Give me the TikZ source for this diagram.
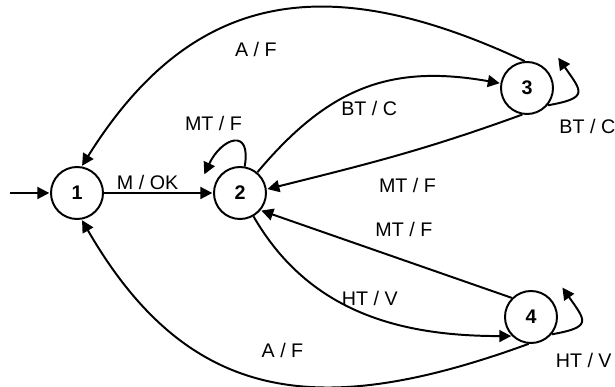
\documentclass[tikz,border=0pt]{standalone}
\usepackage{fontspec}
\setmainfont{Liberation Sans}
\usetikzlibrary{arrows.meta,positioning}

\begin{document}
\begin{tikzpicture}[>={Triangle[length=8.5pt,width=8.5pt]},shorten >=0.5pt,auto,on grid,
        line width=1.4pt,main node/.style={circle,draw,minimum size=1.3cm,inner sep=0pt,
        font=\fontsize{14}{16}\selectfont\bfseries}]
        \useasboundingbox (-1.925,-4.85) rectangle (13.45,4.825);
        \node[main node] (1) {1};
        \node[main node] (2) [right=4.075cm of 1] {2};
        \node[main node] (3) [above right=2.625cm and 7.175cm of 2] {3};
        \node[main node] (4) [below right=3.1cm and 7.275cm of 2] {4};
        % start arrow and loop ends
        \coordinate[left=1.675cm of 1] (0);
        \coordinate[above left=0.45cm and 0.9cm of 2] (2a);
        \coordinate[above right=0.77cm and 0.77cm of 3] (3a);
        \coordinate[above right=0.75cm and 0.775cm of 4] (4a);
        \path[->,every node/.style={font=\fontsize{14}{16}\selectfont,inner sep=2pt}]
        (0) edge (1)
        (1) edge node [pos=0.4,above] {M / OK} (2)
        (2.80) edge [out=80,in=65,looseness=2.5] node [pos=0.5,above=0.18cm,xshift=-0.5cm] {MT / F} (2a)
        (2) edge [out=50,in=170,looseness=1.1] node [pos=0.52,below=0.25cm] {BT / C} (3)
        (3.260) edge [out=200,in=14] node [pos=0.45,below=0.55cm] {MT / F} (2.8)
        (3.95) edge [out=155,in=58,looseness=1.2] node [pos=0.54,below=0.56cm] {A / F} (1.80)
        (3.-40) edge [out=10,in=-55,looseness=2.2] node [pos=0,below right=0.25cm and 0.2cm] {BT / C} (3a)
        (4.135) edge node [pos=0.43,above=0.5cm] {MT / F} (2.-40)
        (2.300) edge [out=-60,in=180] node [pos=0.53,above=0.15cm] {HT / V} (4.225)
        (4.265) edge [out=200,in=-60,looseness=1.2] node [pos=0.47,above=0.55cm] {A / F} (1.-80)
        (4.-40) edge [out=10,in=-55,looseness=2.2] node [pos=0,below right=0.37cm and 0.01cm] {HT / V} (4a)
        ;
\end{tikzpicture}
\end{document}
